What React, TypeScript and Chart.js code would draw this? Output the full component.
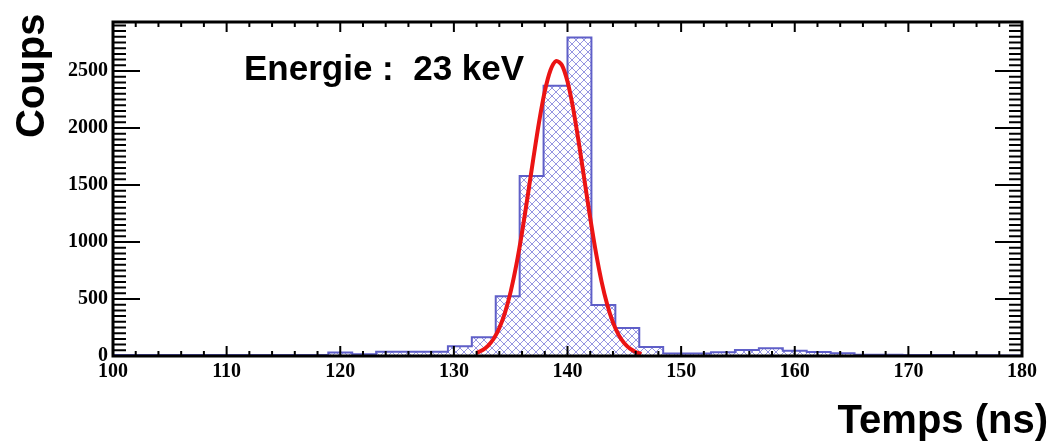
import React, { useEffect, useRef } from "react";
import { Chart, registerables } from "chart.js";

Chart.register(...registerables);

// ---- data ----
const X_MIN = 100;
const X_MAX = 180;
const Y_MIN = 0;
const Y_MAX = 2930;

const X_TICK_LABELS = [100, 110, 120, 130, 140, 150, 160, 170, 180];
const Y_TICK_LABELS = [0, 500, 1000, 1500, 2000, 2500];

// 38 bins between 100 and 180 ns
const BIN_COUNTS = [
  8, 8, 8, 8, 8, 8, 8, 8, 8, 30,
  15, 38, 38, 38, 85, 165, 525, 1580, 2370, 2795,
  447, 245, 80, 22, 22, 32, 53, 67, 47, 35,
  24, 12, 10, 8, 8, 6, 6, 5,
];

// Gaussian fit curve
const FIT_X = [
  132.0, 132.5, 133.0, 133.5, 134.0, 134.5, 135.0, 135.5, 136.0, 136.5,
  137.0, 137.5, 138.0, 138.5, 139.0, 139.5, 140.0, 140.5, 141.0, 141.5,
  142.0, 142.5, 143.0, 143.5, 144.0, 144.5, 145.0, 145.5, 146.0, 146.5,
];
const FIT_Y = [
  27, 50, 89, 151, 246, 381, 565, 801, 1085, 1405,
  1737, 2054, 2321, 2507, 2588, 2553, 2407, 2169, 1868, 1537,
  1210, 909, 653, 449, 295, 185, 111, 64, 35, 18,
];

const ANNOTATION = "Energie :  23 keV";
const X_TITLE = "Temps (ns)";
const Y_TITLE = "Coups";

export default function App() {
  const ref = useRef<HTMLCanvasElement | null>(null);

  useEffect(() => {
    document.body.style.margin = "0";
    const canvas = ref.current;
    if (!canvas) return;

    // cross-hatch pattern
    const pc = document.createElement("canvas");
    pc.width = 8;
    pc.height = 8;
    const pctx = pc.getContext("2d")!;
    pctx.strokeStyle = "rgba(115,115,215,0.75)";
    pctx.lineWidth = 1;
    pctx.beginPath();
    pctx.moveTo(-1, -1);
    pctx.lineTo(9, 9);
    pctx.moveTo(-1, 9);
    pctx.lineTo(9, -1);
    pctx.stroke();
    const pattern = canvas.getContext("2d")!.createPattern(pc, "repeat")!;

    const binWidth = (X_MAX - X_MIN) / BIN_COUNTS.length;
    const histData = BIN_COUNTS.map((c, k) => ({ x: X_MIN + k * binWidth, y: c }));
    histData.push({ x: X_MAX, y: BIN_COUNTS[BIN_COUNTS.length - 1] });
    const fitData = FIT_X.map((x, i) => ({ x, y: FIT_Y[i] }));

    const tickFont = { family: "'Liberation Serif', 'DejaVu Serif', serif", weight: "bold" as const, size: 20 };

    const framePlugin = {
      id: "frame",
      afterDatasetsDraw(chart: any) {
        const { ctx, chartArea: a, scales } = chart;
        const xs = scales.x;
        const ys = scales.y;
        ctx.save();
        ctx.strokeStyle = "#000";
        ctx.lineWidth = 2;
        ctx.beginPath();
        // x ticks (minor every 2, major every 10)
        for (let i = 0; i <= 40; i++) {
          const v = X_MIN + 2 * i;
          const px = xs.getPixelForValue(v);
          const len = i % 5 === 0 ? 10 : 5;
          ctx.moveTo(px, a.bottom);
          ctx.lineTo(px, a.bottom - len);
          ctx.moveTo(px, a.top);
          ctx.lineTo(px, a.top + len);
        }
        // y ticks (minor every 50, major every 500)
        for (let i = 0; 50 * i <= Y_MAX; i++) {
          const v = 50 * i;
          const py = ys.getPixelForValue(v);
          const len = i % 10 === 0 ? 27 : 13;
          ctx.moveTo(a.left, py);
          ctx.lineTo(a.left + len, py);
          ctx.moveTo(a.right, py);
          ctx.lineTo(a.right - len, py);
        }
        ctx.stroke();
        ctx.lineWidth = 3;
        ctx.strokeRect(a.left, a.top, a.right - a.left, a.bottom - a.top);

        ctx.fillStyle = "#000";
        ctx.font = "bold 35px 'Liberation Sans', Arial, sans-serif";
        ctx.textAlign = "left";
        ctx.textBaseline = "alphabetic";
        ctx.fillText(ANNOTATION, 244, 80);

        ctx.font = "bold 40px 'Liberation Sans', Arial, sans-serif";
        ctx.textAlign = "right";
        ctx.fillText(X_TITLE, 1048, 433);

        ctx.save();
        ctx.translate(44, 138);
        ctx.rotate(-Math.PI / 2);
        ctx.textAlign = "left";
        ctx.fillText(Y_TITLE, 0, 0);
        ctx.restore();
        ctx.restore();
      },
    };

    const chart = new Chart(canvas, {
      type: "line",
      data: {
        datasets: [
          {
            label: "fit",
            data: fitData,
            borderColor: "rgb(235,20,20)",
            borderWidth: 4,
            pointRadius: 0,
            fill: false,
            tension: 0.3,
          },
          {
            label: "hist",
            data: histData,
            stepped: "before",
            borderColor: "rgb(95,95,200)",
            borderWidth: 2,
            pointRadius: 0,
            fill: "origin",
            backgroundColor: pattern as any,
          },
        ],
      },
      options: {
        animation: false,
        responsive: false,
        events: [],
        layout: { padding: { left: 0, right: 32, top: 22, bottom: 0 } },
        plugins: { legend: { display: false }, tooltip: { enabled: false } },
        scales: {
          x: {
            type: "linear",
            min: X_MIN,
            max: X_MAX,
            grid: { display: false, drawTicks: false },
            border: { display: false },
            afterBuildTicks: (s: any) => {
              s.ticks = X_TICK_LABELS.map((v) => ({ value: v }));
            },
            ticks: {
              font: tickFont,
              color: "#000",
              padding: 4,
              maxRotation: 0,
              autoSkip: false,
              callback: (v: any) => String(v),
            },
            afterFit: (s: any) => {
              s.height = 90;
            },
          },
          y: {
            type: "linear",
            min: Y_MIN,
            max: Y_MAX,
            grid: { display: false, drawTicks: false },
            border: { display: false },
            afterBuildTicks: (s: any) => {
              s.ticks = Y_TICK_LABELS.map((v) => ({ value: v }));
            },
            ticks: { font: tickFont, color: "#000", padding: 5, callback: (v: any) => String(v) },
            afterFit: (s: any) => {
              s.width = 113;
            },
          },
        },
      },
      plugins: [framePlugin],
    });

    return () => chart.destroy();
  }, []);

  return (
    <div style={{ width: 1054, height: 446 }}>
      <canvas ref={ref} width={1054} height={446} style={{ display: "block", width: 1054, height: 446 }} />
    </div>
  );
}
